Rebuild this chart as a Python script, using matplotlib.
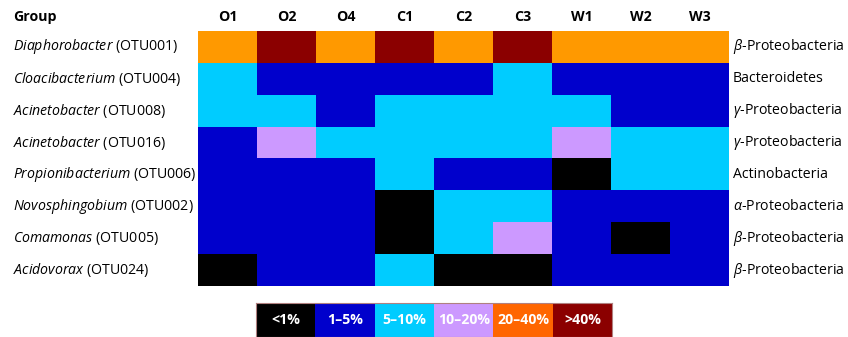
import matplotlib
matplotlib.use("Agg")
import matplotlib.pyplot as plt
import numpy as np
from matplotlib.colors import ListedColormap, BoundaryNorm

plt.rcParams['font.family'] = ['Open Sans', 'DejaVu Sans']
plt.rcParams['mathtext.fontset'] = 'custom'
plt.rcParams['mathtext.rm'] = 'Open Sans'
plt.rcParams['mathtext.it'] = 'Open Sans:italic'
plt.rcParams['mathtext.bf'] = 'Open Sans:bold'

samples = ["O1", "O2", "O4", "C1", "C2", "C3", "W1", "W2", "W3"]
genera = ["Diaphorobacter", "Cloacibacterium", "Acinetobacter", "Acinetobacter",
          "Propionibacterium", "Novosphingobium", "Comamonas", "Acidovorax"]
otus = ["OTU001", "OTU004", "OTU008", "OTU016", "OTU006", "OTU002", "OTU005", "OTU024"]
phyla = [r"$\beta$-Proteobacteria", "Bacteroidetes", r"$\gamma$-Proteobacteria",
         r"$\gamma$-Proteobacteria", "Actinobacteria", r"$\alpha$-Proteobacteria",
         r"$\beta$-Proteobacteria", r"$\beta$-Proteobacteria"]

# abundance class per cell: 0 <1%, 1 1-5%, 2 5-10%, 3 10-20%, 4 20-40%, 5 >40%
abundance_class = [
    [4, 5, 4, 5, 4, 5, 4, 4, 4],
    [2, 1, 1, 1, 1, 2, 1, 1, 1],
    [2, 2, 1, 2, 2, 2, 2, 1, 1],
    [1, 3, 2, 2, 2, 2, 3, 2, 2],
    [1, 1, 1, 2, 1, 1, 0, 2, 2],
    [1, 1, 1, 0, 2, 2, 1, 1, 1],
    [1, 1, 1, 0, 2, 3, 1, 0, 1],
    [0, 1, 1, 2, 0, 0, 1, 1, 1],
]
class_labels = ["<1%", "1–5%", "5–10%", "10–20%", "20–40%", ">40%"]

cell_colors = ["#000000", "#0000CC", "#00CCFF", "#CC99FF", "#FF9900", "#8B0000"]
legend_colors = ["#000000", "#0000CC", "#00CCFF", "#CC99FF", "#FF6600", "#8B0000"]

FS = 10.2
W, H = 848, 337
fig = plt.figure(figsize=(W / 100, H / 100), dpi=100)

# heatmap
ax = fig.add_axes([198 / W, 1 - 286 / H, 531 / W, 255 / H])
cmap = ListedColormap(cell_colors)
norm = BoundaryNorm(np.arange(-0.5, 6.5, 1), cmap.N)
ax.imshow(np.array(abundance_class), cmap=cmap, norm=norm, aspect='auto',
          interpolation='nearest')
ax.set_xticks(range(len(samples)))
ax.set_xticklabels(samples, fontweight='bold', fontsize=FS)
ax.xaxis.tick_top()
ax.tick_params(axis='x', length=0, pad=5)
ax.set_yticks([])
for s in ax.spines.values():
    s.set_visible(False)

fig.text(13 / W, 1 - 17 / H, "Group", fontweight='bold', fontsize=FS,
         ha='left', va='center')

row_h = 255 / len(genera)
for i, (g, o, p) in enumerate(zip(genera, otus, phyla)):
    yc = 1 - (31 + row_h * (i + 0.5)) / H
    fig.text(13 / W, yc, r"$\mathit{" + g + "}$" + f" ({o})", fontsize=FS,
             ha='left', va='center')
    fig.text(733 / W, yc, p, fontsize=FS, ha='left', va='center')

# legend bar
lax = fig.add_axes([256 / W, 0, 356 / W, 34 / H])
lcmap = ListedColormap(legend_colors)
lax.imshow(np.arange(6)[None, :], cmap=lcmap, aspect='auto',
           interpolation='nearest', vmin=0, vmax=5)
for k, lab in enumerate(class_labels):
    lax.text(k, 0, lab, color='white', fontweight='bold', fontsize=FS,
             ha='center', va='center')
lax.set_xticks([])
lax.set_yticks([])
for s in lax.spines.values():
    s.set_edgecolor('#b08080')
    s.set_linewidth(0.8)

fig.savefig("out.png", dpi=100)
